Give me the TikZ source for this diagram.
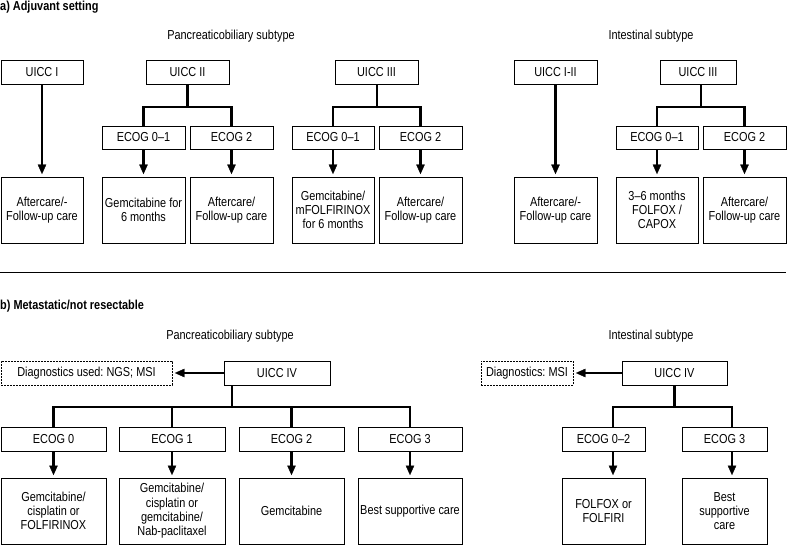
\documentclass[tikz,border=0pt]{standalone}
\usepackage{fontspec}
\setmainfont{Liberation Sans}[FakeStretch=0.84]
\usetikzlibrary{arrows.meta}
\frenchspacing
\begin{document}
\begin{tikzpicture}[x=1pt,y=-1pt,
  box/.style={draw, line width=0.8pt, inner sep=1pt, align=center, font=\fontsize{13}{14.3}\selectfont},
  topbox/.style={box, minimum height=24pt},
  resbox/.style={box, minimum height=66pt},
  dbox/.style={box, dash pattern=on 1.8pt off 1.2pt, minimum height=24pt},
  conn/.style={line width=2.2pt},
  arr/.style={conn, -{Triangle[width=8.5pt,length=9.5pt,line width=0.3pt]}, shorten >=2.5pt},
  lbl/.style={font=\fontsize{13}{14.3}\selectfont, inner sep=0pt},
  ttl/.style={font=\fontsize{13}{14.3}\selectfont\bfseries, inner sep=0pt, anchor=base west},
]
\useasboundingbox (0,0) rectangle (787,545);

% ---------- a) Adjuvant setting ----------
\node[ttl] (ta) at (0,10.5) {a) Adjuvant setting};
\node[lbl] (pa) at (231,36) {Pancreaticobiliary subtype};
\node[lbl] (ia) at (651,36) {Intestinal subtype};

\node[topbox, minimum width=82pt] (u1) at (42,72) {UICC I};
\node[topbox, minimum width=83pt] (u2) at (187.5,72) {UICC II};
\node[topbox, minimum width=83pt] (u3) at (376.5,72) {UICC III};
\node[topbox, minimum width=83pt] (u4) at (555.5,72) {UICC I-II};
\node[topbox, minimum width=76pt] (u5) at (698,72) {UICC III};

\node[topbox, minimum width=83pt, minimum height=23pt] (e1) at (143.5,137.5) {ECOG 0–1};
\node[topbox, minimum width=83pt, minimum height=23pt] (e2) at (231.5,137.5) {ECOG 2};
\node[topbox, minimum width=82pt, minimum height=23pt] (e3) at (333,137.5) {ECOG 0–1};
\node[topbox, minimum width=83pt, minimum height=23pt] (e4) at (420.5,137.5) {ECOG 2};
\node[topbox, minimum width=82pt, minimum height=23pt] (e5) at (657,137.5) {ECOG 0–1};
\node[topbox, minimum width=83pt, minimum height=23pt] (e6) at (744.5,137.5) {ECOG 2};

\node[resbox, minimum width=82pt] (r0) at (42,210) {Aftercare/-\\Follow-up care};
\node[resbox, minimum width=83pt] (r1) at (143.5,210) {Gemcitabine for\\6 months};
\node[resbox, minimum width=83pt] (r2) at (231.5,210) {Aftercare/\\Follow-up care};
\node[resbox, minimum width=82pt] (r3) at (333,210) {Gemcitabine/\\mFOLFIRINOX\\for 6 months};
\node[resbox, minimum width=83pt] (r4) at (420.5,210) {Aftercare/\\Follow-up care};
\node[resbox, minimum width=83pt] (r5) at (555.5,210) {Aftercare/-\\Follow-up care};
\node[resbox, minimum width=82pt] (r6) at (657,210) {3–6 months\\FOLFOX /\\CAPOX};
\node[resbox, minimum width=83pt] (r7) at (744.5,210) {Aftercare/\\Follow-up care};

\coordinate (b2) at (187.5,107);
\coordinate (b3) at (376.75,107);
\coordinate (b5) at (700.75,107);

\draw[arr] (u1) -- (r0);
\draw[arr] (u4) -- (r5);

\draw[conn] (u2.south) -- (b2);
\draw[conn] (e1.north) -- (e1.north |- b2) -- (e2.north |- b2) -- (e2.north);
\draw[conn] (b3 |- u3.south) -- (b3);
\draw[conn] (e3.north) -- (e3.north |- b3) -- (e4.north |- b3) -- (e4.north);
\draw[conn] (b5 |- u5.south) -- (b5);
\draw[conn] (e5.north) -- (e5.north |- b5) -- (e6.north |- b5) -- (e6.north);

\draw[arr] (e1) -- (r1);
\draw[arr] (e2) -- (r2);
\draw[arr] (e3) -- (r3);
\draw[arr] (e4) -- (r4);
\draw[arr] (e5) -- (r6);
\draw[arr] (e6) -- (r7);

% separator
\coordinate (sepL) at (0,272);
\coordinate (sepR) at (786,272);
\draw[line width=0.8pt] (sepL) -- (sepR);

% ---------- b) Metastatic ----------
\node[ttl] (tb) at (0,309) {b) Metastatic/not resectable};
\node[lbl] (pb) at (230,336) {Pancreaticobiliary subtype};
\node[lbl] (ib) at (651,336) {Intestinal subtype};

\node[dbox, minimum width=171pt] (d1) at (86.5,373) {Diagnostics used: NGS; MSI};
\node[topbox, minimum width=106pt] (v1) at (277,373) {UICC IV};
\node[dbox, minimum width=92pt] (d2) at (527,373) {Diagnostics: MSI};
\node[topbox, minimum width=105pt] (v2) at (674.5,373) {UICC IV};

\node[topbox, minimum width=105pt] (f0) at (53.5,439) {ECOG 0};
\node[topbox, minimum width=106pt] (f1) at (172,439) {ECOG 1};
\node[topbox, minimum width=105pt] (f2) at (291.5,439) {ECOG 2};
\node[topbox, minimum width=104pt] (f3) at (410,439) {ECOG 3};
\node[topbox, minimum width=83pt] (g0) at (603.5,439) {ECOG 0–2};
\node[topbox, minimum width=85pt] (g1) at (724.5,439) {ECOG 3};

\node[resbox, minimum width=105pt] (s0) at (53.5,511) {Gemcitabine/\\cisplatin or\\FOLFIRINOX};
\node[resbox, minimum width=106pt] (s1) at (172,511) {Gemcitabine/\\cisplatin or\\gemcitabine/\\Nab-paclitaxel};
\node[resbox, minimum width=105pt] (s2) at (291.5,511) {Gemcitabine};
\node[resbox, minimum width=104pt] (s3) at (410,511) {Best supportive care};
\node[resbox, minimum width=83pt] (t0) at (603.5,511) {FOLFOX or\\FOLFIRI};
\node[resbox, minimum width=85pt] (t1) at (724.5,511) {Best\\supportive\\care};

\draw[arr] (v1.west) -- (d1.east);
\draw[arr] (v2.west) -- (d2.east);

\coordinate (bb1) at (231.75,407);
\draw[conn] (bb1 |- v1.south) -- (bb1);
\draw[conn] (f0.north) -- (f0.north |- bb1) -- (f3.north |- bb1) -- (f3.north);
\draw[conn] (f1.north) -- (f1.north |- bb1);
\draw[conn] (f2.north) -- (f2.north |- bb1);

\draw[arr] (f0) -- (s0);
\draw[arr] (f1) -- (s1);
\draw[arr] (f2) -- (s2);
\draw[arr] (f3) -- (s3);

\coordinate (bb2) at (674.5,407);
\coordinate (g0t) at ([xshift=9.5pt]g0.north);
\coordinate (g1t) at ([xshift=7.5pt]g1.north);
\draw[conn] (v2.south) -- (bb2);
\draw[conn] (g0t) -- (g0t |- bb2) -- (g1t |- bb2) -- (g1t);
\draw[arr] ([xshift=9.5pt]g0.south) -- ([xshift=9.5pt]t0.north);
\draw[arr] ([xshift=7.5pt]g1.south) -- ([xshift=7.5pt]t1.north);
\end{tikzpicture}
\end{document}
